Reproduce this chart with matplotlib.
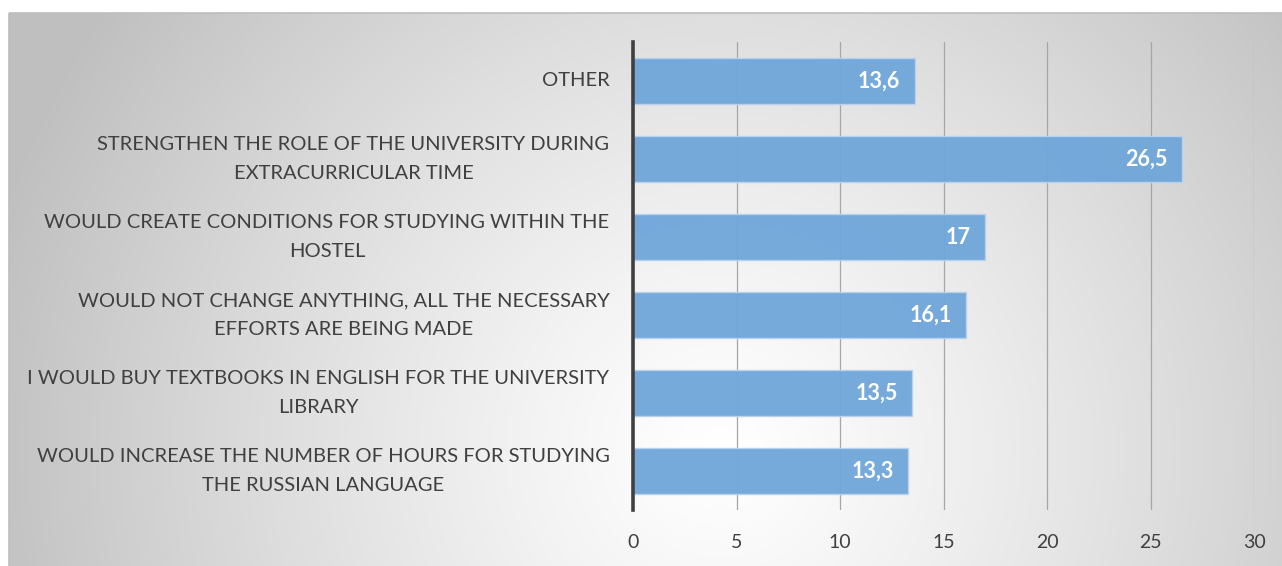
import numpy as np
import matplotlib
matplotlib.use("Agg")
import matplotlib.pyplot as plt
from matplotlib.patches import Rectangle

categories = [
    "WOULD INCREASE THE NUMBER OF HOURS FOR STUDYING\nTHE RUSSIAN LANGUAGE",
    "I WOULD BUY TEXTBOOKS IN ENGLISH FOR THE UNIVERSITY\nLIBRARY",
    "WOULD NOT CHANGE ANYTHING, ALL THE NECESSARY\nEFFORTS ARE BEING MADE",
    "WOULD CREATE CONDITIONS FOR STUDYING WITHIN THE\nHOSTEL",
    "STRENGTHEN THE ROLE OF THE UNIVERSITY DURING\nEXTRACURRICULAR TIME",
    "OTHER",
]
values = [13.3, 13.5, 16.1, 17, 26.5, 13.6]
value_labels = ["13,3", "13,5", "16,1", "17", "26,5", "13,6"]
xticks = [0, 5, 10, 15, 20, 25, 30]

plt.rcParams['font.family'] = ['Lato', 'DejaVu Sans']

W, H = 1282, 566
fig = plt.figure(figsize=(W / 100, H / 100), dpi=100)
fig.patch.set_facecolor("white")

# radial gradient background
bg = fig.add_axes([0, 0, 1, 1], zorder=0)
bg.set_axis_off()
yy, xx = np.mgrid[0:H, 0:W]
cx, cy = 720, 450
d = np.sqrt((xx - cx) ** 2 + (yy - cy) ** 2) / 760.0
val = 1.0 - 0.25 * np.clip(d, 0, 1) ** 1.2
img = np.dstack([val, val, val])
x0, y0 = 9, 13
img[:y0, :, :] = 1.0
img[:, :x0, :] = 1.0
bg.imshow(img, extent=[0, W, H, 0], aspect="auto", interpolation="bilinear")
bg.set_xlim(0, W)
bg.set_ylim(H, 0)
bg.add_patch(Rectangle((x0, y0), W - x0 + 5, H - y0 + 5, fill=False, edgecolor="#bdbdbd", lw=1.2))

# main axes: x 0 -> 633px, 30 -> 1254px ; y top 42, bottom 510
left = 633 / W
right = 1254 / W
top = 1 - 42 / H
bottom = 1 - 510 / H
ax = fig.add_axes([left, bottom, right - left, top - bottom], zorder=1)
ax.patch.set_alpha(0)

y = np.arange(len(categories))
ax.barh(y, values, height=0.59, color="#6fa6da", edgecolor="#b9d3ee", linewidth=1.0, alpha=0.95, zorder=2)
ax.set_xlim(0, 30)
ax.set_ylim(-0.5, len(categories) - 0.5)
ax.set_xticks(xticks)
ax.set_xticklabels([str(t) for t in xticks], fontsize=14, color="#404040")
ax.set_yticks(y)
ax.set_yticklabels(categories, fontsize=14.5, color="#404040", linespacing=1.82,
                   multialignment="center", va="center")
ax.tick_params(axis="y", length=0, pad=17)
ax.tick_params(axis="x", length=0, pad=17)
ax.grid(axis="x", color="#a6a6a6", lw=0.9, zorder=1)
for s in ["top", "right", "bottom"]:
    ax.spines[s].set_visible(False)
ax.spines["left"].set_color("#404040")
ax.spines["left"].set_linewidth(2.6)
ax.spines["left"].set_zorder(3)

for yi, v, lab in zip(y, values, value_labels):
    ax.text(v - 0.7, yi, lab, ha="right", va="center", color="white", fontsize=15.5,
            fontweight="bold", zorder=4)

fig.savefig("out.png", dpi=100)
